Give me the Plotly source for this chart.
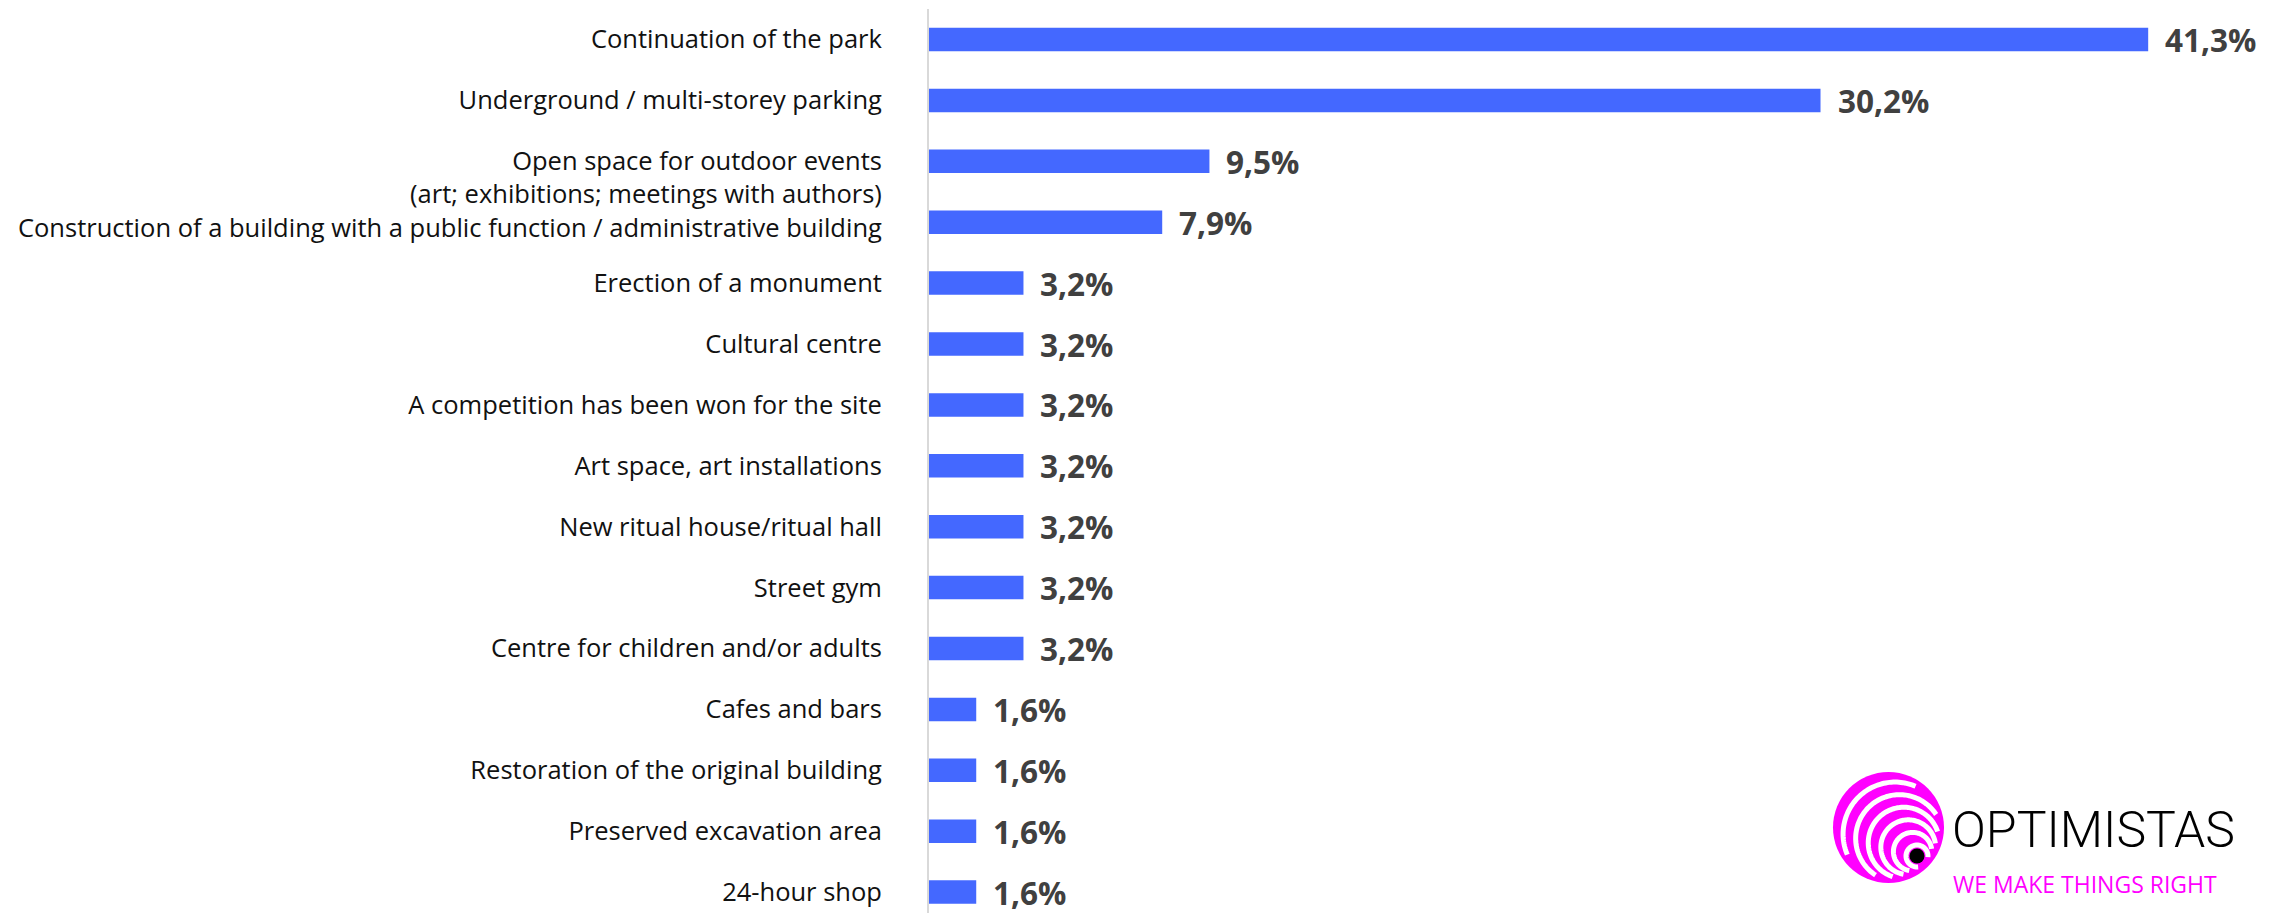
import math
import plotly.graph_objects as go

categories = [
    "Continuation of the park",
    "Underground / multi-storey parking",
    "Open space for outdoor events<br>(art; exhibitions; meetings with authors)",
    "Construction of a building with a public function / administrative building",
    "Erection of a monument",
    "Cultural centre",
    "A competition has been won for the site",
    "Art space, art installations",
    "New ritual house/ritual hall",
    "Street gym",
    "Centre for children and/or adults",
    "Cafes and bars",
    "Restoration of the original building",
    "Preserved excavation area",
    "24-hour shop",
]
values = [41.3, 30.2, 9.5, 7.9, 3.2, 3.2, 3.2, 3.2, 3.2, 3.2, 3.2, 1.6, 1.6, 1.6, 1.6]
value_labels = [f"{v:.1f}".replace(".", ",") + "%" for v in values]

W, H = 2271, 913
ML, MT = 929, 9
BAR_COLOR = "#4468FF"
MAGENTA = "#FF00FF"

positions = list(range(len(categories)))
ticktext = [(" <br>" + c) if "<br>" in c else c for c in categories]
# the label that follows the two-line label is nudged down a little, as in the original
tickpos = []
for i, p in enumerate(positions):
    nudge = 0.1 if i > 0 and "<br>" in categories[i - 1] else 0.0
    tickpos.append(p + nudge)

fig = go.Figure()
fig.add_trace(go.Bar(
    x=values, y=positions, orientation="h",
    marker=dict(color=BAR_COLOR, line=dict(width=0)),
    width=0.386, hoverinfo="skip",
))

for v, p, lab in zip(values, positions, value_labels):
    fig.add_annotation(
        x=v, y=p, xref="x", yref="y", text=f"<b>{lab}</b>",
        showarrow=False, xanchor="left", yanchor="middle", xshift=15, yshift=0,
        font=dict(family="Open Sans", size=31.5, color="#404040"),
    )

# pixel -> paper helpers for the logo
PW, PH = W - ML, H - MT
def px(x):
    return (x - ML) / PW
def py(y):
    return (H - y) / PH

# Logo: magenta disc with white eccentric arcs and black dot
CX, CY, R = 1888.5, 827.5, 55.5
DX, DY = 1917.0, 856.0
fig.add_shape(type="circle", xref="paper", yref="paper",
              x0=px(CX - R), x1=px(CX + R), y0=py(CY + R), y1=py(CY - R),
              fillcolor=MAGENTA, line=dict(width=0), layer="above")
ux, uy = 1 / math.sqrt(2), 1 / math.sqrt(2)
for k in range(6):
    r = 11 + 8.2 * k
    s = 6.2 * k
    cx, cy = DX - s * ux, DY - s * uy
    a0, a1 = (0, 360) if k == 0 else (100, 352)
    segs, cur = [], []
    n = 120
    for i in range(n + 1):
        a = math.radians(a0 + (a1 - a0) * i / n)
        x, y = cx + r * math.cos(a), cy + r * math.sin(a)
        if math.hypot(x - CX, y - CY) <= R - 6:
            cur.append((x, y))
        else:
            if len(cur) > 1:
                segs.append(cur)
            cur = []
    if len(cur) > 1:
        segs.append(cur)
    path = ""
    for seg in segs:
        path += "M " + " L ".join(f"{px(x):.5f},{py(y):.5f}" for x, y in seg) + " "
    if path:
        fig.add_shape(type="path", xref="paper", yref="paper", path=path,
                      line=dict(color="white", width=5), layer="above")
fig.add_shape(type="circle", xref="paper", yref="paper",
              x0=px(DX - 7.5), x1=px(DX + 7.5), y0=py(DY + 7.5), y1=py(DY - 7.5),
              fillcolor="black", line=dict(width=0), layer="above")

fig.add_annotation(xref="paper", yref="paper", x=px(1950), y=py(830),
                   text="OPTIMISTAS", showarrow=False, xanchor="left", yanchor="middle",
                   font=dict(family="Roboto", size=50, weight=300, color="black"))
fig.add_annotation(xref="paper", yref="paper", x=px(1951), y=py(884),
                   text="WE MAKE THINGS RIGHT", showarrow=False, xanchor="left", yanchor="middle",
                   font=dict(family="Open Sans", size=23, color=MAGENTA))

fig.update_layout(
    width=W, height=H,
    margin=dict(l=ML, r=0, t=MT, b=0, pad=0),
    paper_bgcolor="white", plot_bgcolor="white",
    showlegend=False,
    xaxis=dict(range=[0, 45.46], visible=False, fixedrange=True),
    yaxis=dict(
        range=[14.343, -0.5008],
        tickmode="array", tickvals=tickpos, ticktext=ticktext,
        showline=True, linecolor="#D9D9D9", linewidth=2,
        showgrid=False, zeroline=False, ticks="", ticklabelstandoff=40,
        tickfont=dict(family="Open Sans", size=25.5, color="#111111"),
        fixedrange=True,
    ),
)

fig.write_html(
    "out.html",
    config={"displayModeBar": False},
    post_script="document.body.style.margin='0';document.body.style.overflow='hidden';",
)
